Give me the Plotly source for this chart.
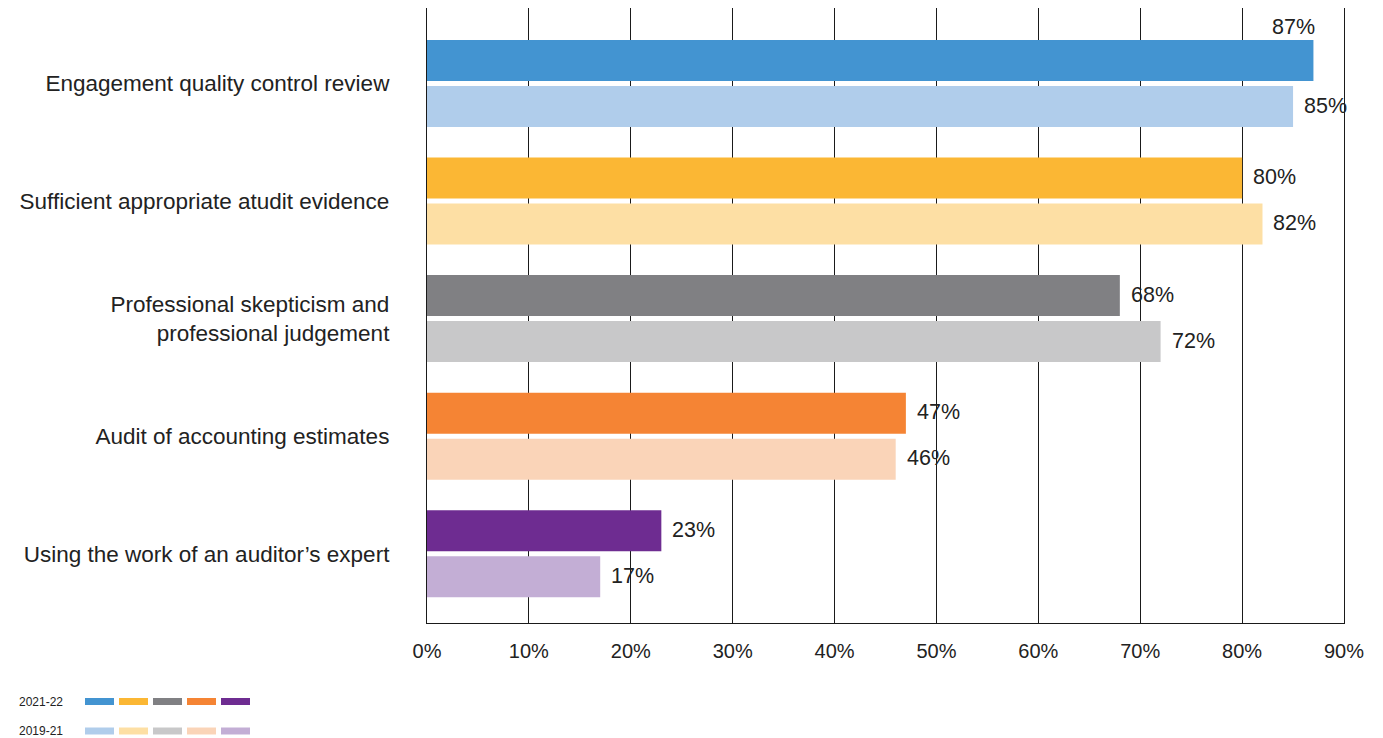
import plotly.graph_objects as go

categories = [
    "Engagement quality control review",
    "Sufficient appropriate atudit evidence",
    "Professional skepticism and<br>professional judgement",
    "Audit of accounting estimates",
    "Using the work of an auditor\u2019s expert",
]
series_names = ["2021-22", "2019-21"]
values_2021_22 = [87, 80, 68, 47, 23]
values_2019_21 = [85, 82, 72, 46, 17]
colors_2021_22 = ["#4394D1", "#FBB734", "#808083", "#F58434", "#6E2C91"]
colors_2019_21 = ["#B0CDEB", "#FDDFA4", "#C8C8C9", "#FAD4B8", "#C3AED5"]
x_ticks = [0, 10, 20, 30, 40, 50, 60, 70, 80, 90]
x_tick_labels = [f"{t}%" for t in x_ticks]

# page has an 8px body margin; lay the figure out in page pixels minus that
OFF = 8
W, H = 1383 - OFF, 738 - OFF
L, T = 427 - OFF, 8 - OFF
plot_w = 917
plot_h = 615
R = W - L - plot_w
B = H - T - plot_h
y_range = [4.59, -0.643]
px_per_unit = plot_h / (y_range[0] - y_range[1])
bargap = 0.217
bar_offset_px = (1 - bargap) / 4 * px_per_unit

FONT = "Liberation Sans, Arial, sans-serif"
TXT = "#222222"

fig = go.Figure()
for name, vals, cols in [(series_names[0], values_2021_22, colors_2021_22),
                         (series_names[1], values_2019_21, colors_2019_21)]:
    fig.add_trace(go.Bar(
        y=categories, x=vals, orientation="h", name=name,
        marker=dict(color=cols, line=dict(width=0)),
        showlegend=False, hoverinfo="skip",
    ))

annotations = []
for i, (vals, sign) in enumerate([(values_2021_22, 1), (values_2019_21, -1)]):
    for cat, v in zip(categories, vals):
        if v > 86:
            annotations.append(dict(
                x=v, y=cat, xref="x", yref="y", text=f"{v}%", showarrow=False,
                xanchor="right", yanchor="middle", xshift=4,
                yshift=sign * bar_offset_px + 34,
                font=dict(family=FONT, size=21.5, color=TXT)))
        else:
            annotations.append(dict(
                x=v, y=cat, xref="x", yref="y", text=f"{v}%", showarrow=False,
                xanchor="left", yanchor="middle", xshift=9,
                yshift=sign * bar_offset_px + 1,
                font=dict(family=FONT, size=21.5, color=TXT)))

# custom legend at bottom-left (page pixel positions converted to paper coords)
def px_to_paper_x(px):
    return (px - OFF - L) / plot_w

def py_to_paper_y(py):
    return (T + plot_h - (py - OFF)) / plot_h

shapes = []
legend_rows = [(series_names[0], colors_2021_22, 701.5), (series_names[1], colors_2019_21, 731.0)]
for name, cols, cy in legend_rows:
    annotations.append(dict(
        x=px_to_paper_x(17), y=py_to_paper_y(cy), xref="paper", yref="paper",
        text=name, showarrow=False, xanchor="left", yanchor="middle",
        font=dict(family=FONT, size=12, color=TXT)))
    for j, c in enumerate(cols):
        x0 = 85 + j * 34
        shapes.append(dict(
            type="rect", xref="paper", yref="paper",
            x0=px_to_paper_x(x0), x1=px_to_paper_x(x0 + 29),
            y0=py_to_paper_y(cy + 3.5), y1=py_to_paper_y(cy - 3.5),
            fillcolor=c, line=dict(width=0), layer="above"))

fig.update_layout(
    width=W, height=H,
    margin=dict(l=L, r=R, t=T, b=B, pad=0),
    paper_bgcolor="white", plot_bgcolor="white",
    barmode="group", bargap=bargap, bargroupgap=0.109,
    font=dict(family=FONT, size=20, color=TXT),
    annotations=annotations, shapes=shapes,
    xaxis=dict(
        range=[0, 90], tickvals=x_ticks, ticktext=x_tick_labels,
        showgrid=True, gridcolor="#1a1a1a", gridwidth=1.2,
        zeroline=False, showline=True, linecolor="#1a1a1a", linewidth=1.2,
        ticks="", ticklabelstandoff=10,
        tickfont=dict(family=FONT, size=20, color=TXT), fixedrange=True,
    ),
    yaxis=dict(
        range=y_range, showgrid=False, zeroline=False,
        showline=True, linecolor="#1a1a1a", linewidth=1.2, mirror=True,
        ticks="", ticklabelstandoff=32,
        tickfont=dict(family=FONT, size=22.5, color=TXT), fixedrange=True,
    ),
)

fig.write_html("out.html")
